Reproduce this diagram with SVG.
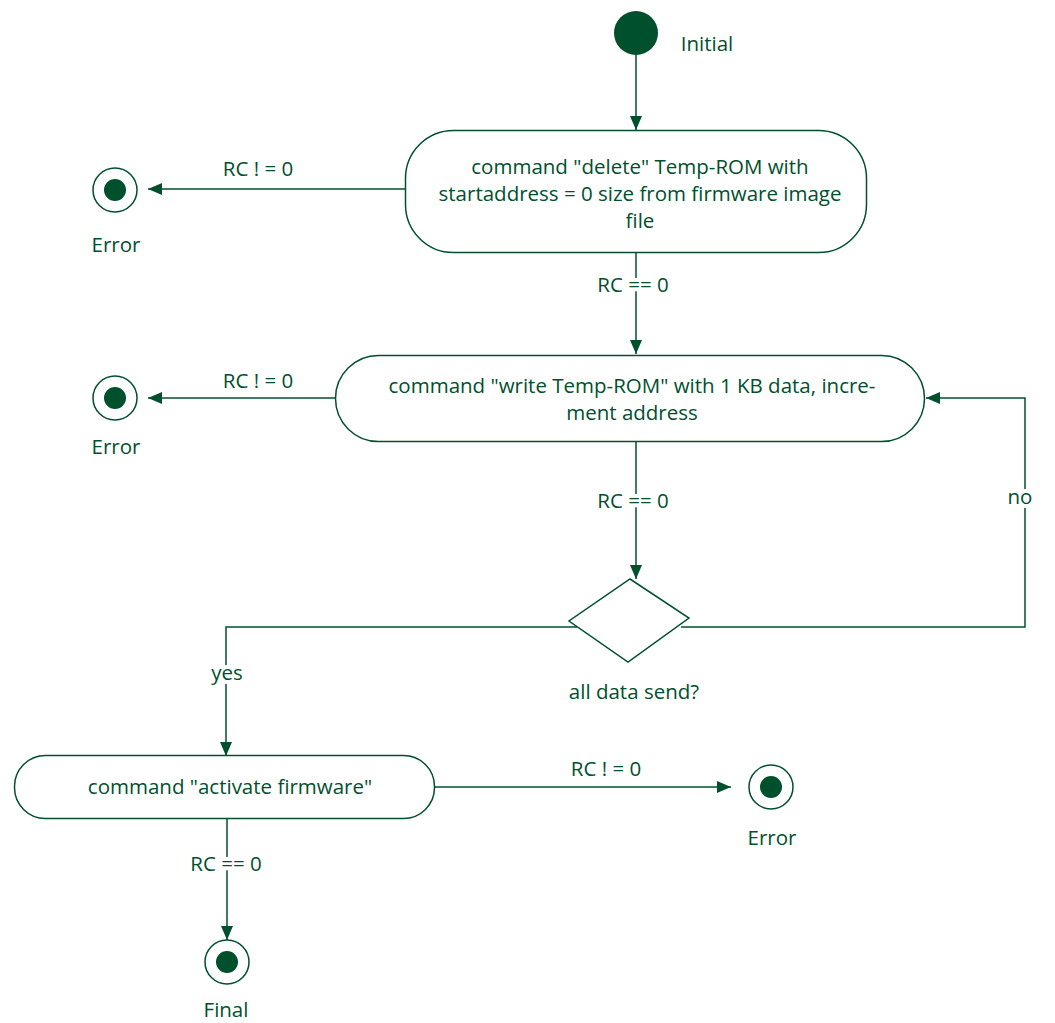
<svg xmlns="http://www.w3.org/2000/svg" width="1055" height="1023" viewBox="0 0 1055 1023">
<defs>
<style>
text{font-family:"Open Sans","Liberation Sans",sans-serif;font-size:20.5px;fill:#00502d;text-anchor:middle}
.lbl{paint-order:stroke;stroke:#fff;stroke-width:8px;stroke-linejoin:round}
.node{fill:#fff;stroke:#00502d;stroke-width:1.5}
.edge{fill:none;stroke:#00502d;stroke-width:1.5}
.dot{fill:#00502d}
</style>
<marker id="arr" viewBox="0 0 14 12" refX="14" refY="6" markerWidth="14" markerHeight="12" markerUnits="userSpaceOnUse" orient="auto">
<path d="M0,0 L14,6 L0,12 Z" fill="#00502d"/>
</marker>
</defs>
<rect width="1055" height="1023" fill="#fff"/>
<g id="connectors">
<path class="edge" d="M636,55 V130" marker-end="url(#arr)"/>
<path class="edge" d="M405,189 H148" marker-end="url(#arr)"/>
<path class="edge" d="M636,253 V354" marker-end="url(#arr)"/>
<path class="edge" d="M336,398 H148" marker-end="url(#arr)"/>
<path class="edge" d="M636,442 V579" marker-end="url(#arr)"/>
<path class="edge" d="M681,627 H1025 V398 H926" marker-end="url(#arr)"/>
<path class="edge" d="M577,627 H226 V756" marker-end="url(#arr)"/>
<path class="edge" d="M435,787 H731" marker-end="url(#arr)"/>
<path class="edge" d="M227,818 V940" marker-end="url(#arr)"/>
<text class="lbl" x="258" y="176">RC ! = 0</text>
<text class="lbl" x="633" y="292">RC == 0</text>
<text class="lbl" x="258" y="388">RC ! = 0</text>
<text class="lbl" x="633" y="508">RC == 0</text>
<text class="lbl" x="1020" y="504">no</text>
<text class="lbl" x="227" y="680">yes</text>
<text class="lbl" x="606" y="776">RC ! = 0</text>
<text class="lbl" x="226" y="871">RC == 0</text>
</g>
<g id="initial">
<circle class="dot" cx="636" cy="33" r="22"/>
<text x="707" y="51">Initial</text>
</g>
<g id="delete">
<rect class="node" x="405.5" y="130.5" width="461" height="122" rx="48"/>
<text x="640" y="174">command "delete" Temp-ROM with</text>
<text x="640" y="201">startaddress = 0 size from firmware image</text>
<text x="640" y="228">file</text>
</g>
<g id="error1">
<circle class="node" cx="115" cy="190" r="22"/>
<circle class="dot" cx="115" cy="190" r="11"/>
<text x="116" y="252">Error</text>
</g>
<g id="write">
<rect class="node" x="335.5" y="355.5" width="589" height="86" rx="43"/>
<text x="632" y="393">command "write Temp-ROM" with 1 KB data, incre-</text>
<text x="632" y="420">ment address</text>
</g>
<g id="error2">
<circle class="node" cx="115" cy="398" r="22"/>
<circle class="dot" cx="115" cy="398" r="11"/>
<text x="116" y="454">Error</text>
</g>
<g id="decision">
<path class="node" d="M630,579 L689,618 L628,662 L569,621 Z"/>
<text x="634" y="699">all data send?</text>
</g>
<g id="activate">
<rect class="node" x="14.5" y="755.5" width="420" height="63" rx="31"/>
<text x="230" y="794">command "activate firmware"</text>
</g>
<g id="error3">
<circle class="node" cx="771" cy="787" r="22"/>
<circle class="dot" cx="771" cy="787" r="11"/>
<text x="772" y="845">Error</text>
</g>
<g id="final">
<circle class="node" cx="227" cy="962" r="22"/>
<circle class="dot" cx="227" cy="962" r="11"/>
<text x="226" y="1017">Final</text>
</g>
</svg>
